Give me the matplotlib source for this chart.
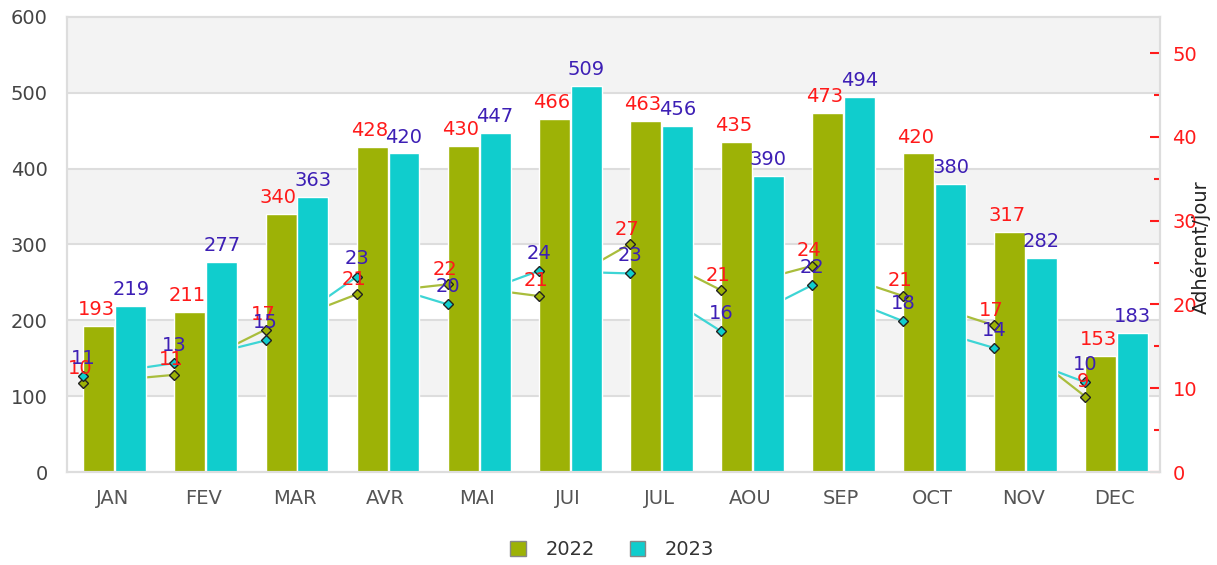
import numpy as np
import matplotlib
matplotlib.use("Agg")
import matplotlib.pyplot as plt
from matplotlib.patches import Patch
from matplotlib.ticker import MultipleLocator

# Data
months = ["JAN", "FEV", "MAR", "AVR", "MAI", "JUI", "JUL", "AOU", "SEP", "OCT", "NOV", "DEC"]
visits_2022 = [193, 211, 340, 428, 430, 466, 463, 435, 473, 420, 317, 153]
visits_2023 = [219, 277, 363, 420, 447, 509, 456, 390, 494, 380, 282, 183]
per_day_2022 = [10.6, 11.6, 17.0, 21.2, 22.4, 21.0, 27.2, 21.7, 24.6, 21.0, 17.5, 9.0]
per_day_2023 = [11.4, 13.0, 15.7, 23.3, 20.0, 24.0, 23.7, 16.8, 22.3, 18.0, 14.8, 10.7]

col_22 = "#9db206"
col_23 = "#10cdcd"
line_22 = "#a9bd3c"
line_23 = "#3dd5d5"
red = "#ff1a1a"
blue = "#3d1fb5"
grid = "#dddddd"

fig = plt.figure(figsize=(12.17, 5.65), dpi=100)
ax = fig.add_axes([67 / 1217, 1 - 472 / 565, (1160 - 67) / 1217, (472 - 17) / 565])
ax2 = ax.twinx()

x = np.arange(len(months))
width = 0.34

ax.set_xlim(-0.5, len(months) - 0.5)
ax.set_ylim(0, 600)
ax2.set_ylim(0, 54.3)

# alternating bands + grid
for lo in (100, 300, 500):
    ax.axhspan(lo, lo + 100, color="#f3f3f3", zorder=0, lw=0)
for g in range(100, 600, 100):
    ax.axhline(g, color=grid, lw=1.5, zorder=0.5)

# lines drawn behind bars, markers on top (using right axis scale)
xm = x - 0.32
ax.plot(xm, per_day_2022, color=line_22, lw=1.6, zorder=1.5, transform=ax2.transData)
ax.plot(xm, per_day_2023, color=line_23, lw=1.6, zorder=1.5, transform=ax2.transData)

b1 = ax.bar(x - 0.15, visits_2022, width, color=col_22, edgecolor="white", lw=1, zorder=2)
b2 = ax.bar(x + 0.20, visits_2023, width, color=col_23, edgecolor="white", lw=1, zorder=2)

ax.plot(xm, per_day_2022, ls="none", marker="D", ms=5.5, mfc=col_22, mec="#222222", mew=1,
        zorder=3, transform=ax2.transData)
ax.plot(xm, per_day_2023, ls="none", marker="D", ms=5.5, mfc=col_23, mec="#222222", mew=1,
        zorder=3, transform=ax2.transData)

fs = 14
for i in range(len(months)):
    ax.annotate(str(visits_2022[i]), (x[i] - 0.15, visits_2022[i]), xytext=(-2, 5),
                textcoords="offset points", ha="center", va="bottom", color=red, fontsize=fs, zorder=4)
    ax.annotate(str(visits_2023[i]), (x[i] + 0.20, visits_2023[i]), xytext=(0, 5),
                textcoords="offset points", ha="center", va="bottom", color=blue, fontsize=fs, zorder=4)
    ax.annotate(str(int(per_day_2022[i])), (xm[i], per_day_2022[i]), xycoords=ax2.transData,
                xytext=(-2, 4), textcoords="offset points", ha="center", va="bottom",
                color=red, fontsize=fs, zorder=4)
    ax.annotate(str(int(per_day_2023[i])), (xm[i], per_day_2023[i]), xycoords=ax2.transData,
                xytext=(0, 6), textcoords="offset points", ha="center", va="bottom",
                color=blue, fontsize=fs, zorder=4)

ax.set_xticks(x)
ax.set_xticklabels(months)
ax.set_yticks(range(0, 700, 100))
ax.tick_params(axis="x", length=0, pad=12, labelsize=fs, labelcolor="#555555")
ax.tick_params(axis="y", length=0, pad=14, labelsize=fs, labelcolor="#444444")

ax2.yaxis.set_major_locator(MultipleLocator(10))
ax2.yaxis.set_minor_locator(MultipleLocator(5))
ax2.tick_params(axis="y", which="major", direction="in", length=7, width=1.5, color=red,
                labelcolor=red, labelsize=fs, pad=9)
ax2.tick_params(axis="y", which="minor", direction="in", length=4, width=1.5, color=red)
ax2.set_ylabel("Adhérent/jour", fontsize=fs, color="#222222")
ax2.yaxis.set_label_coords(1.0283, 0.4945)

for a in (ax, ax2):
    for s in a.spines.values():
        s.set_color(grid)
        s.set_linewidth(1.5)

handles = [Patch(facecolor=col_22, edgecolor="#888888"), Patch(facecolor=col_23, edgecolor="#888888")]
fig.legend(handles, ["2022", "2023"], loc="center", bbox_to_anchor=(0.503, 0.027), ncol=2,
           frameon=False, fontsize=fs, handlelength=0.8, handleheight=0.8, columnspacing=1.8,
           handletextpad=1.0, labelcolor="#333333")

fig.savefig("out.png", dpi=100)
